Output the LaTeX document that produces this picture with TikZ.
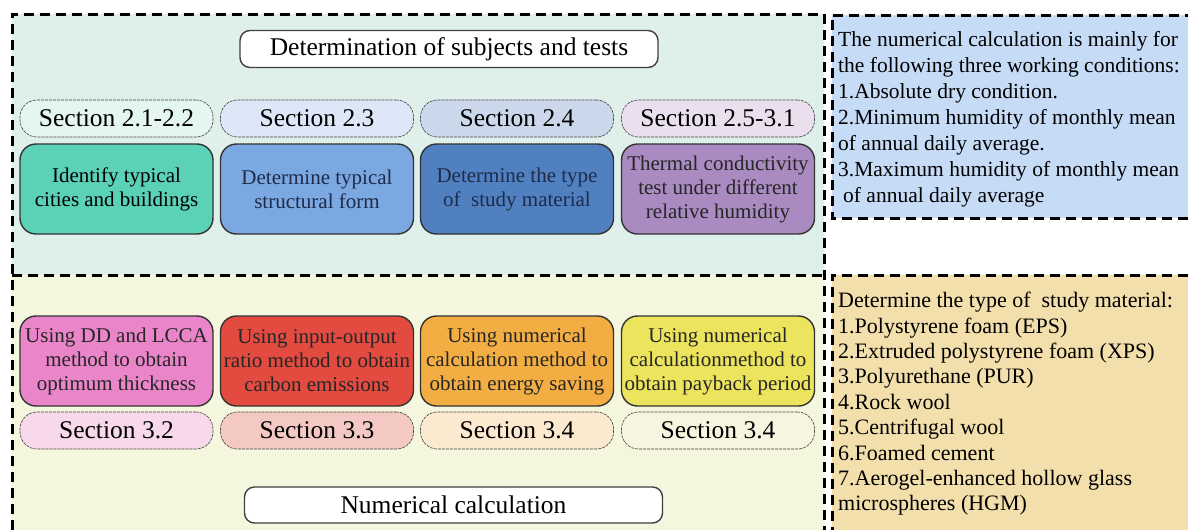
\documentclass[tikz,border=0pt]{standalone}
\usepackage{fontspec}
\setmainfont{Liberation Serif}
\usetikzlibrary{positioning}
\definecolor{cTop}{HTML}{DFF0EA}
\definecolor{cBot}{HTML}{F4F6DE}
\definecolor{cNote}{HTML}{C6DBF6}
\definecolor{cMat}{HTML}{F2DFAC}
\definecolor{cA}{HTML}{5BD1B8}
\definecolor{cB}{HTML}{7BA8E0}
\definecolor{cC}{HTML}{5080C0}
\definecolor{cE}{HTML}{A98AC1}
\definecolor{cF}{HTML}{EA85C9}
\definecolor{cG}{HTML}{E34B40}
\definecolor{cH}{HTML}{F2AE42}
\definecolor{cK}{HTML}{ECE45C}
\definecolor{tA}{HTML}{E4F6F1}
\definecolor{tB}{HTML}{DDE7F8}
\definecolor{tC}{HTML}{CBD8EB}
\definecolor{tE}{HTML}{EADFEE}
\definecolor{tF}{HTML}{F8D9EB}
\definecolor{tG}{HTML}{F4C9C4}
\definecolor{tH}{HTML}{FBE9D0}
\definecolor{tK}{HTML}{F6F6E0}
\definecolor{cInk}{HTML}{1E2B4A}

\begin{document}
\begin{tikzpicture}[x=1pt, y=-1pt,
    frame/.style={line width=3pt, dash pattern=on 10pt off 6pt},
    secbox/.style={draw=black!75, dash pattern=on 3pt off 1pt, line width=0.6pt, rounded corners=17pt, minimum width=193pt, minimum height=37pt, inner sep=0pt, font=\fontsize{25.5}{28}\selectfont},
    taskbox/.style={draw=black!80, line width=1.4pt, rounded corners=16pt, minimum width=193pt, minimum height=90pt, inner sep=0pt, align=center, font=\fontsize{21}{24}\selectfont},
    headbox/.style={draw=black!75, line width=1.4pt, fill=white, rounded corners=10pt, minimum width=418pt, minimum height=37pt, font=\fontsize{25.5}{28}\selectfont},
    notetext/.style={anchor=north west, align=left, inner sep=0pt, font=\fontsize{21.5}{26}\selectfont}]

    \useasboundingbox (0,0) rectangle (1188,530);

    % Background panels
    \fill[cTop] (12,14) rectangle (824,275);
    \fill[cBot] (12,275) rectangle (824,530);
    \fill[cNote] (832,15) rectangle (1188,218);
    \fill[cMat] (832,275) rectangle (1188,530);

    % Dashed frames
    \draw[frame] (12,530) -- (12,14) -- (824,14) -- (824,530);
    \draw[frame] (12,275) -- (824,275);
    \draw[frame] (1188,218) -- (832,218) -- (832,15) -- (1188,15);
    \draw[frame] (1188,275) -- (832,275) -- (832,530);

    % Headline of the upper part
    \node[headbox] (head) at (449,49) {Determination of subjects and tests};

    % Upper row: section tabs
    \foreach \i/\x/\tcol/\sectxt in {1/116.5/tA/{Section 2.1-2.2}, 2/317/tB/{Section 2.3}, 3/517/tC/{Section 2.4}, 4/718/tE/{Section 2.5-3.1}}
        \node[secbox, fill=\tcol] (secUp\i) at (\x,118.5) {\sectxt};

    % Upper row: task boxes
    \node[taskbox, fill=cA, text=black, below=6pt of secUp1] (taskUp1) {Identify typical\\cities and buildings};
    \node[taskbox, fill=cB, text=cInk, below=6pt of secUp2] (taskUp2) {Determine typical\\structural form};
    \node[taskbox, fill=cC, text=cInk, below=6pt of secUp3] (taskUp3) {Determine the type\\of\ \ study material};
    \node[taskbox, fill=cE, text=black!85, below=6pt of secUp4] (taskUp4) {Thermal conductivity\\test under different\\relative humidity};

    % Lower row: task boxes
    \node[taskbox, fill=cF, text=black!85] (taskLow1) at (116.5,361) {Using DD and LCCA\\method to obtain\\optimum thickness};
    \node[taskbox, fill=cG, text=black!85] (taskLow2) at (317,361) {Using input-output\\ratio method to obtain\\carbon emissions};
    \node[taskbox, fill=cH, text=black!85] (taskLow3) at (517,361) {Using numerical\\calculation method to\\obtain energy saving};
    \node[taskbox, fill=cK, text=black!85] (taskLow4) at (718,361) {Using numerical\\calculationmethod to\\obtain payback period};

    % Lower row: section tabs
    \foreach \i/\tcol/\sectxt in {1/tF/{Section 3.2}, 2/tG/{Section 3.3}, 3/tH/{Section 3.4}, 4/tK/{Section 3.4}}
        \node[secbox, fill=\tcol, below=5pt of taskLow\i] (secLow\i) {\sectxt};

    % Headline of the lower part
    \node[headbox, minimum height=36pt] (foot) at (453.5,505) {Numerical calculation};

    % Notes on the right
    \node[notetext] (cond) at (838,31) {The numerical calculation is mainly for\\
        the following three working conditions:\\
        1.Absolute dry condition.\\
        2.Minimum humidity of monthly mean\\
        of annual daily average.\\
        3.Maximum humidity of monthly mean\\
        \hspace*{5pt}of annual daily average};
    \node[notetext, font=\fontsize{22}{25.4}\selectfont] (mat) at (838,292) {Determine the type of\ \ study material:\\
        1.Polystyrene foam (EPS)\\
        2.Extruded polystyrene foam (XPS)\\
        3.Polyurethane (PUR)\\
        4.Rock wool\\
        5.Centrifugal wool\\
        6.Foamed cement\\
        7.Aerogel-enhanced hollow glass\\
        microspheres (HGM)};
\end{tikzpicture}
\end{document}
